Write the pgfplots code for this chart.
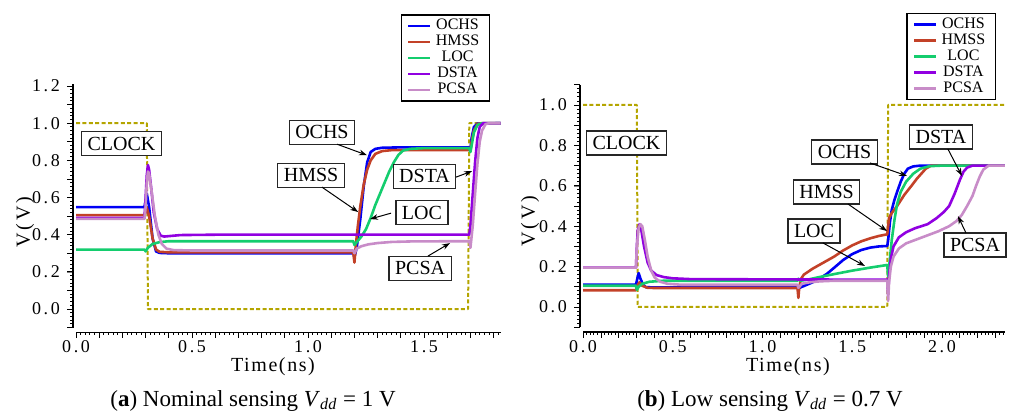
\documentclass[border=0pt]{standalone}
\usepackage{pgfplots}
\pgfplotsset{compat=1.18}
\usepackage{fontspec}
\setmainfont{Liberation Serif}
\newfontfamily\tickfont[LetterSpace=15]{Liberation Serif}
\newfontfamily\labfont[LetterSpace=8]{Liberation Serif}
\usetikzlibrary{arrows.meta}
\definecolor{cOCHS}{RGB}{0,0,245}
\definecolor{cHMSS}{RGB}{195,65,40}
\definecolor{cLOC}{RGB}{20,205,110}
\definecolor{cDSTA}{RGB}{145,0,225}
\definecolor{cPCSA}{RGB}{200,140,200}
\definecolor{cCLK}{RGB}{180,165,0}
\pgfkeys{/pgf/number format/.cd, fixed, fixed zerofill, precision=1, assume math mode=true}
\tikzset{
  clk/.style={color=cCLK, line width=1pt, dash pattern=on 2pt off 1.2pt},
  annot/.style={draw=black!85, line width=0.6pt, fill=white, inner xsep=3pt, inner ysep=0pt,
    minimum height=12pt, font=\fontsize{10}{12}\selectfont},
  arr/.style={-{Stealth[length=4pt,width=2.8pt]}, line width=0.5pt, black},
  lab/.style={font=\fontsize{10}{12}\labfont},
  tk/.style={black, line width=0.45pt},
}
\pgfplotsset{
  common/.style={
    scale only axis, clip=false,
    axis lines*=left,
    axis line style={line width=0.7pt, black},
    ticklabel style={font=\fontsize{9}{10}\tickfont},
    major tick length=3pt, minor tick length=1.8pt,
    tick align=outside,
  },
  yaxisA/.style={
    common, x axis line style={draw=none}, xtick=\empty,
    anchor=south west,
    every axis plot/.append style={line width=1.3pt, line join=round},
    legend cell align=center,
    legend style={anchor=north east, draw=black, line width=0.6pt, fill=white,
      font=\fontsize{8}{9}\selectfont, inner xsep=3pt, inner ysep=1.5pt, row sep=0pt,
      nodes={inner xsep=2pt, inner ysep=0pt, text height=6pt, text depth=2pt}},
    legend image code/.code={\draw[#1, line width=1.3pt] (0pt,0pt) -- (11pt,0pt);},
  },
  xaxisB/.style={
    common, y axis line style={draw=none}, ytick=\empty,
    anchor=south west, height=1pt, ymin=0, ymax=1,
    xticklabel style={yshift=2.5pt},
  },
}
\begin{document}
\begin{tikzpicture}
\useasboundingbox (0,0) rectangle (505.5pt,208.5pt);
% ---------------- left panel ----------------
\begin{axis}[yaxisA, at={(36.5pt,44.7pt)}, width=213.8pt, height=121.7pt,
  xmin=-0.013, xmax=1.83, ymin=-0.1, ymax=1.21, ytick={0,0.2,...,1.2},
  legend style={at={(axis cs:1.784,1.586)}}]
\addplot[clk, forget plot] coordinates {(0,1.0) (0.305,1.0) (0.31,0) (1.69,0) (1.695,1.0) (1.83,1.0)};
\addplot[color=cOCHS] coordinates {(0,0.548) (0.295,0.548) (0.305,0.62) (0.315,0.55) (0.33,0.38) (0.345,0.31) (0.36,0.302) (0.40,0.30) (1.195,0.30) (1.20,0.28) (1.21,0.33) (1.225,0.48) (1.24,0.66) (1.255,0.79) (1.27,0.845) (1.29,0.862) (1.32,0.868) (1.4,0.87) (1.695,0.87) (1.70,0.86) (1.705,0.92) (1.715,0.98) (1.73,0.998) (1.83,1.0)};
\addlegendentry{OCHS}
\addplot[color=cHMSS] coordinates {(0,0.505) (0.295,0.505) (0.305,0.545) (0.315,0.5) (0.33,0.38) (0.345,0.32) (0.36,0.308) (0.40,0.305) (1.195,0.305) (1.20,0.25) (1.205,0.33) (1.215,0.45) (1.225,0.55) (1.24,0.67) (1.255,0.75) (1.27,0.80) (1.29,0.835) (1.32,0.85) (1.36,0.855) (1.695,0.855) (1.70,0.85) (1.705,0.9) (1.715,0.96) (1.73,0.995) (1.75,1.0) (1.83,1.0)};
\addlegendentry{HMSS}
\addplot[color=cLOC] coordinates {(0,0.32) (0.295,0.32) (0.30,0.31) (0.31,0.33) (0.33,0.35) (0.36,0.36) (0.40,0.365) (1.195,0.365) (1.20,0.345) (1.21,0.36) (1.23,0.39) (1.25,0.43) (1.27,0.49) (1.29,0.56) (1.31,0.62) (1.33,0.68) (1.35,0.74) (1.37,0.79) (1.39,0.83) (1.41,0.853) (1.44,0.862) (1.5,0.866) (1.695,0.866) (1.70,0.845) (1.705,0.88) (1.715,0.95) (1.73,0.99) (1.75,1.0) (1.83,1.0)};
\addlegendentry{LOC}
\addplot[color=cDSTA] coordinates {(0,0.49) (0.295,0.49) (0.30,0.6) (0.305,0.72) (0.31,0.775) (0.315,0.75) (0.325,0.64) (0.335,0.52) (0.35,0.43) (0.365,0.395) (0.38,0.39) (0.45,0.398) (0.6,0.40) (1.695,0.40) (1.70,0.45) (1.71,0.62) (1.72,0.79) (1.73,0.92) (1.74,0.98) (1.755,1.0) (1.83,1.0)};
\addlegendentry{DSTA}
\addplot[color=cPCSA] coordinates {(0,0.485) (0.295,0.485) (0.30,0.55) (0.305,0.68) (0.31,0.74) (0.315,0.73) (0.325,0.64) (0.34,0.50) (0.355,0.40) (0.37,0.35) (0.39,0.325) (0.42,0.317) (0.5,0.315) (1.195,0.315) (1.20,0.30) (1.21,0.325) (1.23,0.338) (1.26,0.348) (1.30,0.355) (1.36,0.361) (1.45,0.364) (1.695,0.365) (1.70,0.33) (1.71,0.45) (1.72,0.62) (1.73,0.78) (1.74,0.90) (1.75,0.96) (1.765,0.995) (1.78,1.0) (1.83,1.0)};
\addlegendentry{PCSA}
\node[annot] at (axis cs:0.196,0.890) {CLOCK};
\node[annot] at (axis cs:1.060,0.952) {OCHS};
\node[annot] at (axis cs:1.013,0.720) {HMSS};
\node[annot] at (axis cs:1.502,0.715) {DSTA};
\node[annot] at (axis cs:1.491,0.519) {LOC};
\node[annot] at (axis cs:1.483,0.220) {PCSA};
\draw[arr] (axis cs:1.125,0.887) -- (axis cs:1.254,0.828);
\draw[arr] (axis cs:1.060,0.656) -- (axis cs:1.216,0.522);
\draw[arr] (axis cs:1.638,0.710) -- (axis cs:1.707,0.742);
\draw[arr] (axis cs:1.358,0.516) -- (axis cs:1.267,0.484);
\draw[arr] (axis cs:1.517,0.285) -- (axis cs:1.612,0.355);
\node[lab, rotate=90, font=\fontsize{10}{12}\tickfont] at (axis cs:-0.220,0.468) {V(V)};
\node[lab] at (axis cs:0.849,-0.312) {Time(ns)};
\node[font=\fontsize{11.5}{13}\selectfont] at (axis cs:0.763,-0.493) {(\textbf{a}) Nominal sensing \textit{V}\textsubscript{\textit{dd}} = 1 V};
\end{axis}
\begin{axis}[xaxisB, at={(38pt,42.25pt)}, width=212.3pt, xmin=0, xmax=1.83, xtick={0,0.5,1,1.5}]
\end{axis}
% ---------------- right panel ----------------
\begin{axis}[yaxisA, at={(290pt,44.9pt)}, width=212.4pt, height=121.2pt,
  xmin=-0.0167, xmax=2.35, ymin=-0.1, ymax=1.1, ytick={0,0.2,...,1.0},
  legend style={at={(axis cs:2.30,1.455)}}]
\addplot[clk, forget plot] coordinates {(0,1.0) (0.30,1.0) (0.305,0) (1.695,0) (1.70,1.0) (2.35,1.0)};
\addplot[color=cOCHS] coordinates {(0,0.11) (0.295,0.11) (0.305,0.15) (0.31,0.168) (0.32,0.14) (0.335,0.11) (0.35,0.098) (0.4,0.097) (1.195,0.097) (1.20,0.092) (1.22,0.10) (1.26,0.115) (1.30,0.13) (1.36,0.165) (1.40,0.195) (1.45,0.233) (1.50,0.262) (1.55,0.282) (1.60,0.294) (1.65,0.30) (1.695,0.302) (1.70,0.33) (1.71,0.42) (1.72,0.48) (1.735,0.53) (1.75,0.57) (1.77,0.62) (1.79,0.66) (1.81,0.685) (1.84,0.696) (1.88,0.70) (2.35,0.70)};
\addlegendentry{OCHS}
\addplot[color=cHMSS] coordinates {(0,0.083) (0.295,0.083) (0.305,0.11) (0.315,0.122) (0.33,0.105) (0.36,0.095) (0.4,0.094) (1.195,0.094) (1.20,0.045) (1.205,0.10) (1.215,0.14) (1.23,0.16) (1.28,0.19) (1.33,0.215) (1.40,0.25) (1.45,0.28) (1.50,0.305) (1.55,0.325) (1.60,0.34) (1.65,0.352) (1.695,0.36) (1.70,0.40) (1.705,0.44) (1.72,0.465) (1.75,0.50) (1.79,0.555) (1.83,0.60) (1.86,0.635) (1.88,0.655) (1.91,0.685) (1.94,0.70) (2.35,0.70)};
\addlegendentry{HMSS}
\addplot[color=cLOC] coordinates {(0,0.105) (0.295,0.105) (0.30,0.085) (0.31,0.10) (0.33,0.115) (0.37,0.125) (0.45,0.13) (1.195,0.13) (1.20,0.14) (1.21,0.13) (1.25,0.135) (1.30,0.145) (1.40,0.163) (1.50,0.18) (1.60,0.195) (1.695,0.208) (1.70,0.15) (1.71,0.24) (1.72,0.33) (1.735,0.43) (1.75,0.51) (1.77,0.57) (1.80,0.62) (1.84,0.66) (1.88,0.685) (1.93,0.697) (2.0,0.70) (2.35,0.70)};
\addlegendentry{LOC}
\addplot[color=cDSTA] coordinates {(0,0.195) (0.295,0.195) (0.30,0.30) (0.305,0.38) (0.315,0.41) (0.325,0.38) (0.34,0.30) (0.36,0.22) (0.38,0.18) (0.41,0.158) (0.45,0.148) (0.5,0.142) (0.6,0.138) (1.695,0.135) (1.70,0.06) (1.705,0.15) (1.715,0.24) (1.73,0.30) (1.76,0.345) (1.80,0.37) (1.85,0.39) (1.92,0.41) (1.97,0.44) (2.01,0.47) (2.04,0.50) (2.07,0.56) (2.10,0.63) (2.12,0.67) (2.14,0.69) (2.17,0.70) (2.35,0.70)};
\addlegendentry{DSTA}
\addplot[color=cPCSA] coordinates {(0,0.195) (0.295,0.195) (0.30,0.30) (0.31,0.39) (0.32,0.41) (0.33,0.40) (0.345,0.33) (0.36,0.25) (0.38,0.18) (0.40,0.145) (0.43,0.125) (0.47,0.115) (0.55,0.11) (1.195,0.11) (1.20,0.095) (1.22,0.115) (1.26,0.122) (1.32,0.127) (1.40,0.13) (1.695,0.13) (1.70,0.03) (1.705,0.12) (1.715,0.20) (1.73,0.25) (1.76,0.29) (1.80,0.315) (1.86,0.335) (1.92,0.355) (1.98,0.375) (2.04,0.40) (2.08,0.425) (2.11,0.455) (2.14,0.50) (2.17,0.55) (2.19,0.60) (2.21,0.645) (2.23,0.68) (2.26,0.70) (2.35,0.70)};
\addlegendentry{PCSA}
\node[annot] at (axis cs:0.242,0.812) {CLOCK};
\node[annot] at (axis cs:1.457,0.767) {OCHS};
\node[annot] at (axis cs:1.357,0.569) {HMSS};
\node[annot] at (axis cs:1.287,0.376) {LOC};
\node[annot] at (axis cs:1.994,0.842) {DSTA};
\node[annot] at (axis cs:2.184,0.307) {PCSA};
\draw[arr] (axis cs:1.599,0.713) -- (axis cs:1.805,0.649);
\draw[arr] (axis cs:1.476,0.510) -- (axis cs:1.694,0.376);
\draw[arr] (axis cs:1.337,0.317) -- (axis cs:1.571,0.203);
\draw[arr] (axis cs:2.033,0.782) -- (axis cs:2.111,0.649);
\draw[arr] (axis cs:2.134,0.366) -- (axis cs:2.089,0.450);
\node[lab, rotate=90, font=\fontsize{10}{12}\tickfont] at (axis cs:-0.295,0.426) {V(V)};
\node[lab] at (axis cs:1.142,-0.297) {Time(ns)};
\node[font=\fontsize{11.5}{13}\selectfont] at (axis cs:1.042,-0.464) {(\textbf{b}) Low sensing \textit{V}\textsubscript{\textit{dd}} = 0.7 V};
\end{axis}
\begin{axis}[xaxisB, at={(291.5pt,42.4pt)}, width=210.9pt, xmin=0, xmax=2.35, xtick={0,0.5,1,1.5,2}]
\end{axis}
% ---------------- tick rulers (axis decoration) ----------------
\foreach \k in {0,...,65} {
  \pgfmathsetmacro\len{mod(\k,5)==0 ? 2.8 : 1.5}
  \draw[tk] (36.5pt,{(44.7+\k*1.858)*1pt}) -- ++({-\len*1pt},0pt);
}
\foreach \k in {0,...,91} {
  \pgfmathsetmacro\len{mod(\k,5)==0 ? 2.8 : 1.5}
  \draw[tk] ({(38+\k*2.3202)*1pt},42.25pt) -- ++(0pt,{-\len*1pt});
}
\foreach \k in {0,...,60} {
  \pgfmathsetmacro\len{mod(\k,5)==0 ? 2.8 : 1.5}
  \draw[tk] (290pt,{(44.9+\k*2.02)*1pt}) -- ++({-\len*1pt},0pt);
}
\foreach \k in {0,...,117} {
  \pgfmathsetmacro\len{mod(\k,5)==0 ? 2.8 : 1.5}
  \draw[tk] ({(291.5+\k*1.7949)*1pt},42.4pt) -- ++(0pt,{-\len*1pt});
}
\end{tikzpicture}
\end{document}
